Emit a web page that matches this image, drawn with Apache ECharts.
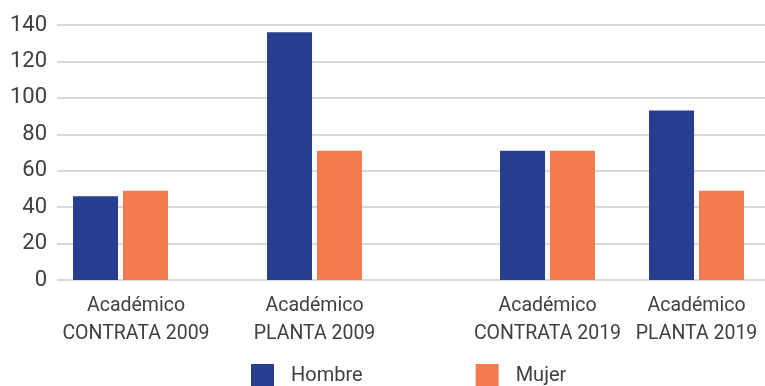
<!DOCTYPE html>
<html>
<head>
<meta charset="utf-8">
<script src="https://cdn.jsdelivr.net/npm/echarts@6/dist/echarts.min.js"></script>
<style>
  html, body { margin: 0; padding: 0; background: #fff; }
  #main { width: 765px; height: 386px; }
</style>
</head>
<body>
<div id="main"></div>
<script>
// datos
var categorias = ['Académico\nCONTRATA 2009', 'Académico\nPLANTA 2009', 'Académico\nCONTRATA 2019', 'Académico\nPLANTA 2019'];
var hombre = [46, 136, 71, 93];
var mujer = [49, 71, 71, 49];
var ticksY = [0, 20, 40, 60, 80, 100, 120, 140];

var colHombre = '#253E8E';
var colMujer = '#F37B4F';
var txt = '#404040';

var chart = echarts.init(document.getElementById('main'));

// eje x de categorias para cada bloque (2009 / 2019)
function ejeX(idx, cats) {
    return {
        type: 'category',
        gridIndex: idx,
        data: cats,
        boundaryGap: false,
        axisLine: { show: false },
        axisTick: { show: false },
        axisLabel: {
            interval: 0,
            color: txt,
            fontFamily: 'Roboto',
            fontSize: 19.5,
            lineHeight: 28,
            margin: 12
        }
    };
}
function ejeY(idx) {
    return { type: 'value', gridIndex: idx, min: 0, max: 140, interval: 20, show: false };
}
function barra(nombre, idx, datos, color) {
    return {
        name: nombre, type: 'bar', xAxisIndex: idx, yAxisIndex: idx,
        data: datos, barWidth: 45, barGap: '11%', clip: false,
        itemStyle: { color: color }
    };
}

var cats09 = categorias.slice(0, 2);
cats09[0] = { value: cats09[0], textStyle: { padding: [0, 0, 0, 31] } };

var option = {
    animation: false,
    grid: [
        { left: 57, right: 0, top: 25, bottom: 106 },
        { left: 120.5, width: 194, top: 25, bottom: 106 },
        { left: 547.5, width: 149, top: 25, bottom: 106 }
    ],
    legend: {
        data: ['Hombre', 'Mujer'],
        left: 251,
        top: 364,
        padding: 0,
        itemWidth: 23,
        itemHeight: 23,
        itemGap: 113,
        icon: 'rect',
        textStyle: { color: txt, fontFamily: 'Roboto', fontSize: 20, padding: [0, 0, 0, 12] }
    },
    xAxis: [
        { type: 'category', gridIndex: 0, data: categorias, show: false },
        ejeX(1, cats09),
        ejeX(2, categorias.slice(2, 4))
    ],
    yAxis: [
        {
            type: 'value', gridIndex: 0, min: 0, max: ticksY[ticksY.length - 1], interval: 20,
            axisLine: { show: false },
            axisTick: { show: false },
            axisLabel: { color: txt, fontFamily: 'Roboto', fontSize: 22, margin: 10 },
            splitLine: { lineStyle: { color: '#D9D9D9', width: 2 } }
        },
        ejeY(1),
        ejeY(2)
    ],
    series: [
        barra('Hombre', 1, hombre.slice(0, 2), colHombre),
        barra('Mujer', 1, mujer.slice(0, 2), colMujer),
        barra('Hombre', 2, hombre.slice(2, 4), colHombre),
        barra('Mujer', 2, mujer.slice(2, 4), colMujer)
    ]
};
chart.setOption(option);
</script>
</body>
</html>
